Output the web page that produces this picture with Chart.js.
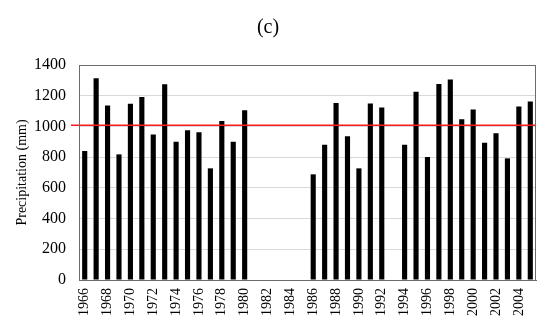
<!DOCTYPE html>
<html>
<head>
<meta charset="utf-8">
<script src="https://cdn.jsdelivr.net/npm/chart.js@4/dist/chart.umd.min.js"></script>
<style>
  html, body { margin: 0; padding: 0; background: #fff; }
  #wrap { width: 537px; height: 328px; }
</style>
</head>
<body>
<div id="wrap"><canvas id="precipChart"></canvas></div>
<script>
// Años 1966-2005 (faltan 1981-1985 y 1993)
const years = [];
for (let y = 1966; y <= 2005; y++) years.push(String(y));

const precipitation = [
  840, 1313, 1137, 818, 1148, 1192, 948, 1274, 901, 975,
  962, 727, 1035, 901, 1105, null, null, null, null, null,
  688, 881, 1153, 936, 727, 1150, 1124, null, 881, 1226,
  801, 1276, 1305, 1046, 1111, 894, 955, 792, 1129, 1163
];

const meanPrecip = 1008;
const yTicks = [0, 200, 400, 600, 800, 1000, 1200, 1400];

const serif = "'Liberation Serif', 'DejaVu Serif', serif";

// Línea roja de la media, un poco más allá del eje izquierdo
const meanLinePlugin = {
  id: 'meanLine',
  afterDatasetsDraw(chart) {
    const { ctx, chartArea, scales } = chart;
    const y = scales.y.getPixelForValue(meanPrecip);
    ctx.save();
    ctx.strokeStyle = '#ff1a1a';
    ctx.lineWidth = 1.5;
    ctx.beginPath();
    ctx.moveTo(chartArea.left - 8, y);
    ctx.lineTo(chartArea.right, y);
    ctx.stroke();
    ctx.restore();
  }
};

// Marco del área de la gráfica
const framePlugin = {
  id: 'frame',
  afterDraw(chart) {
    const { ctx, chartArea } = chart;
    ctx.save();
    ctx.strokeStyle = '#6b6b6b';
    ctx.lineWidth = 1;
    ctx.strokeRect(chartArea.left + 0.5, chartArea.top + 0.5,
      chartArea.right - chartArea.left - 1, chartArea.bottom - chartArea.top);
    ctx.restore();
  }
};

new Chart(document.getElementById('precipChart'), {
  type: 'bar',
  data: {
    labels: years,
    datasets: [{
      data: precipitation,
      backgroundColor: '#000',
      barPercentage: 0.45,
      categoryPercentage: 1
    }]
  },
  options: {
    responsive: true,
    maintainAspectRatio: false,
    animation: false,
    layout: { padding: { left: 0, right: 1, top: 0, bottom: 0 } },
    plugins: {
      legend: { display: false },
      tooltip: { enabled: false },
      title: {
        display: true,
        text: '(c)',
        color: '#000',
        font: { family: serif, size: 20, weight: 'normal' },
        padding: { top: 16, bottom: 25 }
      }
    },
    scales: {
      x: {
        grid: { display: false, drawTicks: false },
        border: { color: '#6b6b6b' },
        ticks: {
          autoSkip: false,
          maxRotation: 90,
          minRotation: 90,
          padding: 8,
          color: '#000',
          font: { family: serif, size: 14 },
          callback: function(val, i) {
            const lab = years[i];
            return (Number(lab) % 2 === 0) ? lab : '';
          }
        },
        afterFit: function(scale) {
          scale.height = 48;
          scale.paddingLeft = 0;
          scale.paddingRight = 0;
        }
      },
      y: {
        min: 0,
        max: 1400,
        grid: { color: '#d9d9d9', drawTicks: false },
        border: { color: '#6b6b6b' },
        afterBuildTicks: function(scale) {
          scale.ticks = yTicks.map(v => ({ value: v }));
        },
        ticks: {
          padding: 13,
          color: '#000',
          font: { family: serif, size: 16 },
          callback: v => String(v)
        },
        title: {
          display: true,
          text: 'Precipitation (mm)',
          color: '#000',
          font: { family: serif, size: 14 },
          padding: { top: 14, bottom: 0 }
        },
        afterFit: function(scale) { scale.width = 79; }
      }
    }
  },
  plugins: [meanLinePlugin, framePlugin]
});
</script>
</body>
</html>
